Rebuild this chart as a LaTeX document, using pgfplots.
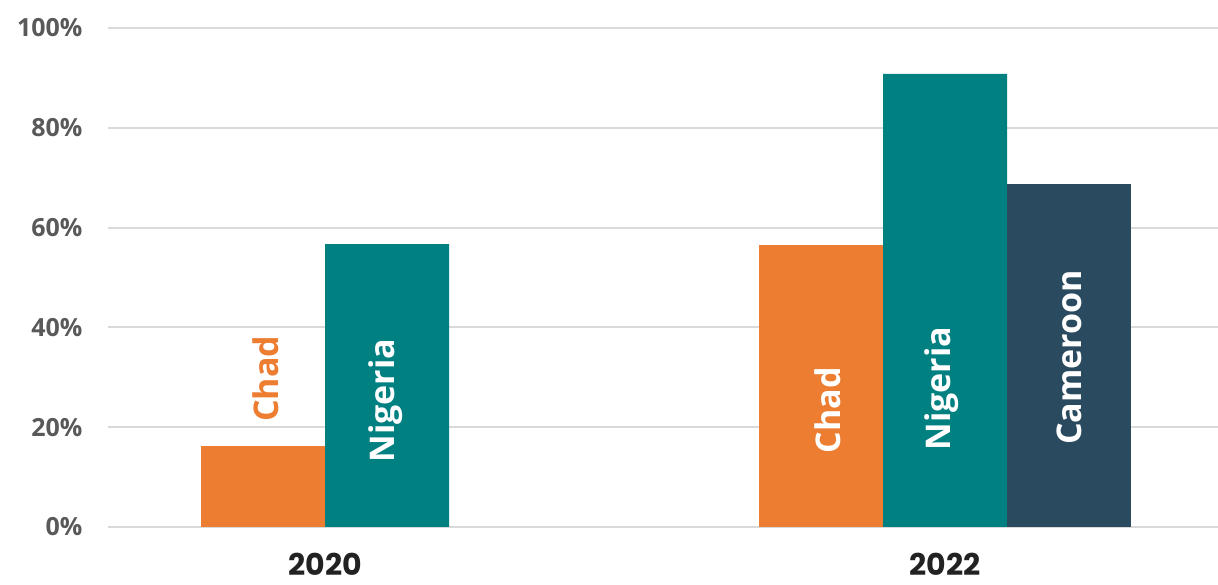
\documentclass[border=0pt]{standalone}
\usepackage{pgfplots}
\pgfplotsset{compat=1.18}
\usepackage{fontspec}
\setmainfont{Open Sans}
\newfontfamily\yearfont{Poppins}
\definecolor{chad}{HTML}{ED7D31}
\definecolor{nig}{HTML}{008080}
\definecolor{cam}{HTML}{2A4B5F}
\definecolor{gridc}{HTML}{D9D9D9}
\definecolor{tickc}{HTML}{595959}
\definecolor{yearc}{HTML}{222222}
\begin{document}
\begin{tikzpicture}
\useasboundingbox (-108pt,-58pt) rectangle (1110pt,527pt);
\begin{axis}[
  at={(0,0)}, anchor=south west,
  x=620pt, y=4.99pt,
  xmin=-0.35, xmax=1.44, ymin=0, ymax=100,
  axis line style={draw=none},
  ytick={0,20,...,100}, yticklabels={0\%,20\%,40\%,60\%,80\%,100\%},
  xtick={0,1}, xticklabels={2020,2022},
  major tick length=0,
  ymajorgrids, grid style={gridc, line width=2pt},
  yticklabel style={font=\fontsize{25}{30}\selectfont\bfseries, text=tickc, xshift=-22pt},
  xticklabel style={font=\yearfont\fontsize{30}{34}\selectfont\bfseries, text=yearc, yshift=-23pt},
  ybar, bar width=0.2, bar shift=0pt,
  clip=false,
]
\addplot[fill=chad, draw=none] coordinates {(-0.1,16.2) (0.8,56.5)};
\addplot[fill=nig, draw=none] coordinates {(0.1,56.7) (1.0,90.8)};
\addplot[fill=cam, draw=none] coordinates {(1.2,68.7)};
\node[rotate=90, text=chad, font=\fontsize{34}{40}\selectfont\bfseries] at (axis cs:-0.095,29.7) {Chad};
\node[rotate=90, text=white, font=\fontsize{34}{40}\selectfont\bfseries] at (axis cs:0.098,25.3) {Nigeria};
\node[rotate=90, text=white, font=\fontsize{34}{40}\selectfont\bfseries] at (axis cs:0.811,23.4) {Chad};
\node[rotate=90, text=white, font=\fontsize{34}{40}\selectfont\bfseries] at (axis cs:0.994,27.7) {Nigeria};
\node[rotate=90, text=white, font=\fontsize{34}{40}\selectfont\bfseries] at (axis cs:1.2,34.0) {Cameroon};
\end{axis}
\end{tikzpicture}
\end{document}
